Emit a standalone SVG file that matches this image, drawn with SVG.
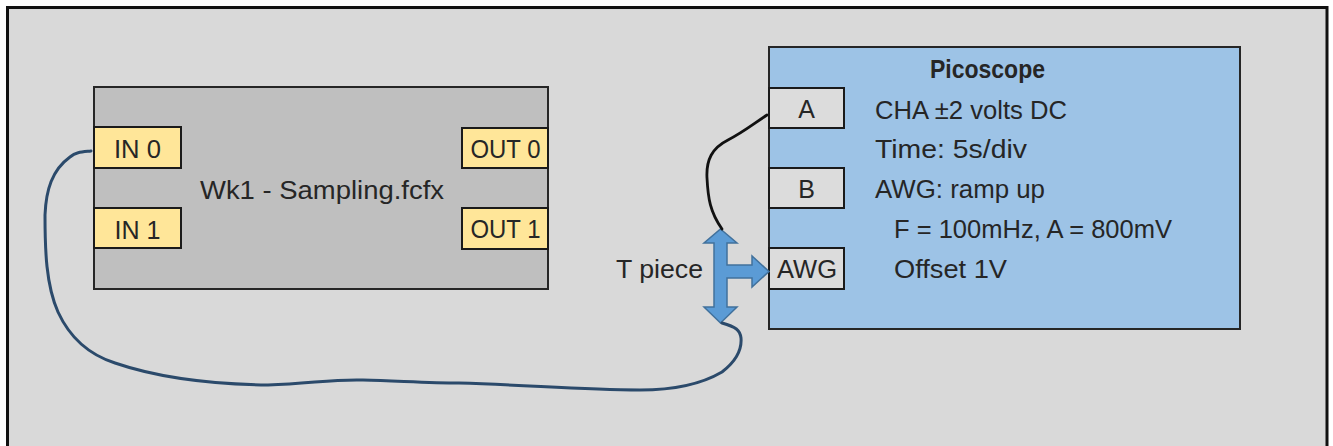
<svg xmlns="http://www.w3.org/2000/svg" width="1333" height="446" viewBox="0 0 1333 446">
<style>
text{font-family:"Liberation Sans",Arial,sans-serif;font-size:25px;fill:#262626}
.c{text-anchor:middle}
.b{font-weight:bold}
.port{fill:#FFE699;stroke:#1a1a1a;stroke-width:2}
.pport{fill:#DCDCDC;stroke:#1a1a1a;stroke-width:2}
</style>
<rect x="0" y="0" width="1333" height="446" fill="#ffffff"/>
<rect id="frame" x="7.5" y="7.5" width="1319.5" height="450" fill="#D9D9D9" stroke="#111" stroke-width="3"/>
<g id="flowcode">
<rect x="94" y="87" width="454" height="202" fill="#BFBFBF" stroke="#262626" stroke-width="2"/>
<text x="322" y="199" class="c" textLength="244" lengthAdjust="spacingAndGlyphs">Wk1 - Sampling.fcfx</text>
</g>
<g id="in0"><rect class="port" x="94" y="127" width="87" height="41"/><text x="137.5" y="158" class="c" textLength="47" lengthAdjust="spacingAndGlyphs">IN 0</text></g>
<g id="in1"><rect class="port" x="94" y="208" width="87" height="40"/><text x="137.5" y="239" class="c" textLength="46" lengthAdjust="spacingAndGlyphs">IN 1</text></g>
<g id="out0"><rect class="port" x="462" y="128" width="86" height="40"/><text x="505.5" y="158" class="c" textLength="70" lengthAdjust="spacingAndGlyphs">OUT 0</text></g>
<g id="out1"><rect class="port" x="462" y="208" width="86" height="41"/><text x="505.5" y="238" class="c" textLength="70" lengthAdjust="spacingAndGlyphs">OUT 1</text></g>
<g id="picoscope">
<rect x="769" y="47" width="471" height="282" fill="#9DC3E6" stroke="#262626" stroke-width="2"/>
<text x="930" y="78" class="b" textLength="115" lengthAdjust="spacingAndGlyphs">Picoscope</text>
<text x="875" y="119" textLength="192" lengthAdjust="spacingAndGlyphs">CHA ±2 volts DC</text>
<text x="875" y="158" textLength="152" lengthAdjust="spacingAndGlyphs">Time: 5s/div</text>
<text x="875" y="198" textLength="170" lengthAdjust="spacingAndGlyphs">AWG: ramp up</text>
<text x="894" y="238" textLength="278" lengthAdjust="spacingAndGlyphs">F = 100mHz, A = 800mV</text>
<text x="894" y="278" textLength="113" lengthAdjust="spacingAndGlyphs">Offset 1V</text>
</g>
<g id="portA"><rect class="pport" x="769" y="88" width="75" height="40"/><text x="806.5" y="118" class="c">A</text></g>
<g id="portB"><rect class="pport" x="769" y="168" width="75" height="40"/><text x="806.5" y="198" class="c">B</text></g>
<g id="portAWG"><rect class="pport" x="769" y="248" width="75" height="41"/><text x="807" y="278" class="c" textLength="60" lengthAdjust="spacingAndGlyphs">AWG</text></g>
<g id="tpiece">
<text x="616" y="278" textLength="87" lengthAdjust="spacingAndGlyphs">T piece</text>
<polygon points="720.5,229 737,243 727,243 727,265 752,265 752,256 769,271.5 752,287 752,278 727,278 727,307 737,307 720.5,323 704,307 714,307 714,243 704,243" fill="#5B9BD5" stroke="#41719C" stroke-width="1.5" stroke-linejoin="miter"/>
</g>
<g id="connectors" fill="none" stroke-linecap="round" stroke-linejoin="round">
<path d="M767,115 C752,125 742,133 728,140 C712,148 706,160 707,178 C708,198 710,212 722,229" stroke="#111" stroke-width="2.8"/>
<path d="M91,151 C82,152 76,152 70,157 C52,170 46,190 45,215 C45,250 46,285 58,312 C70,338 90,355 115,363 C150,375 200,384 268,385 C310,384 330,379 363,380 C400,381 430,383 459,383 C530,385 580,390 640,390 C680,390 705,382 722,372 C735,362 742,350 741,338 C740,330 736,327 722,323" stroke="#2B4A6B" stroke-width="3"/>
</g>
</svg>
